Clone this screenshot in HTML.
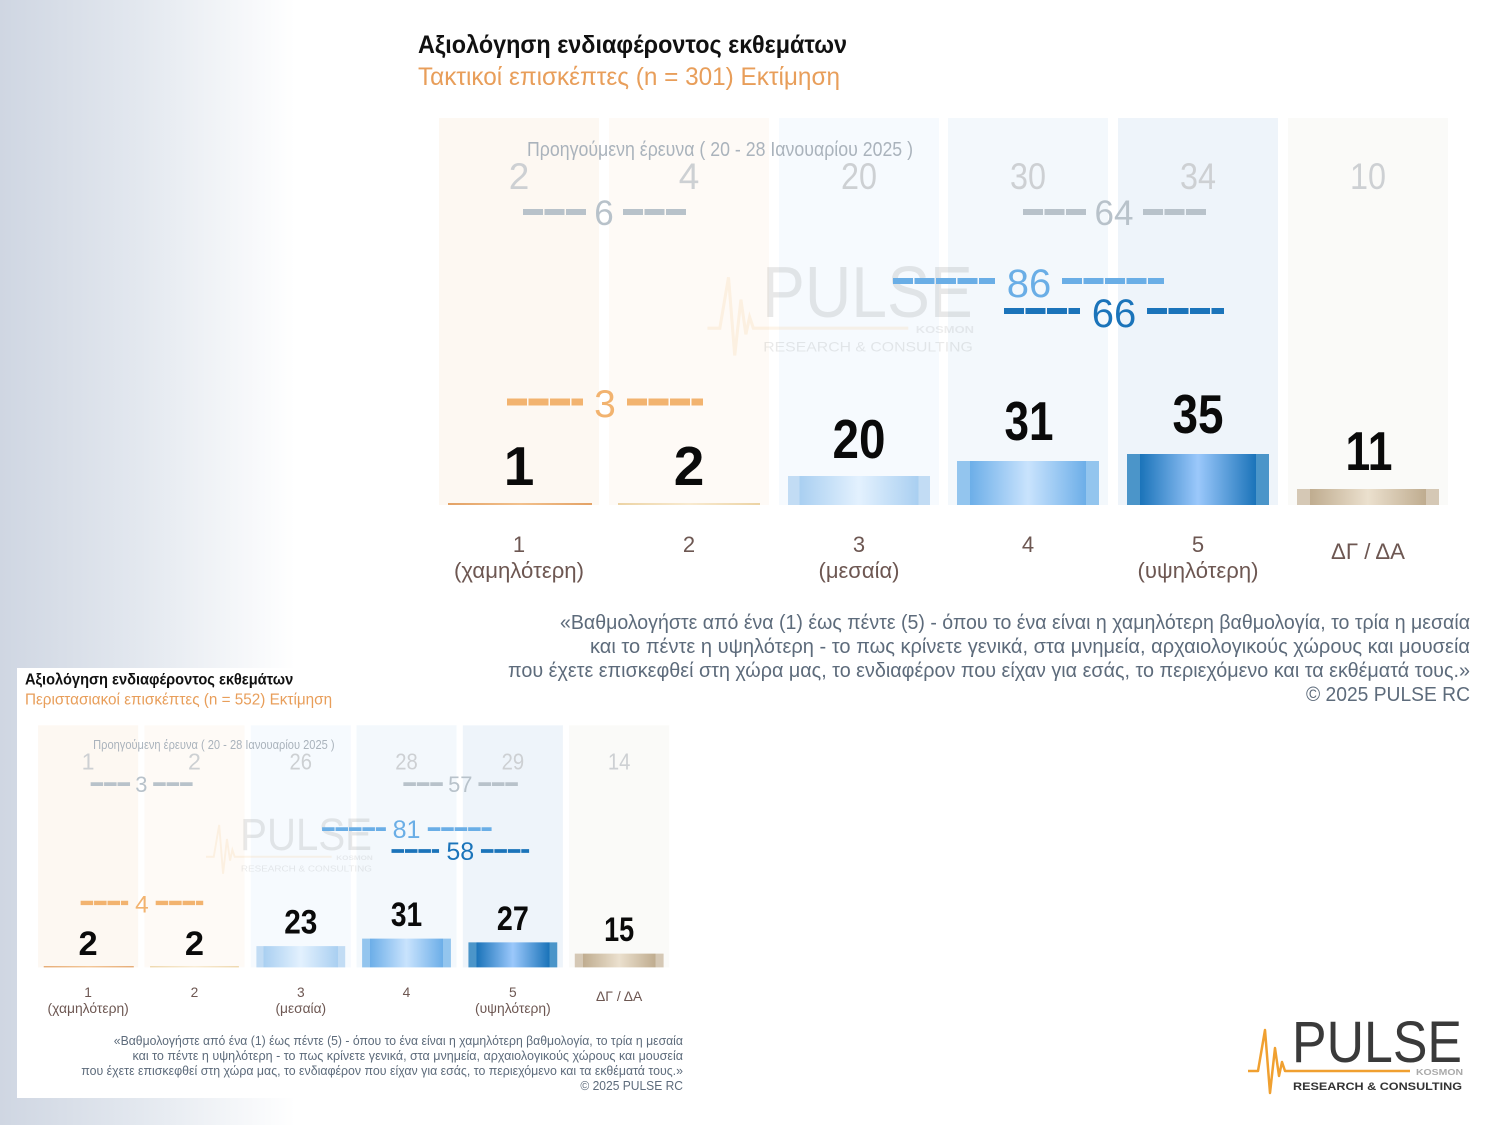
<!DOCTYPE html>
<html><head><meta charset="utf-8">
<style>
html,body{margin:0;padding:0;}
body{width:1500px;height:1125px;overflow:hidden;background:linear-gradient(to right,#cfd6e2 0px,#e3e8ef 140px,#ffffff 295px);}
svg{position:absolute;left:0;top:0;}
text{font-family:"Liberation Sans Narrow","Liberation Sans","Noto Sans CJK SC",sans-serif;}
</style></head>
<body>
<svg width="1500" height="1125" viewBox="0 0 1500 1125" xmlns="http://www.w3.org/2000/svg">
<defs>
<linearGradient id="g3" x1="0" x2="1" y1="0" y2="0">
<stop offset="0" stop-color="#c2dcf4"/><stop offset="0.08" stop-color="#c2dcf4"/><stop offset="0.08" stop-color="#a9cff1"/><stop offset="0.5" stop-color="#e3f1fe"/><stop offset="0.92" stop-color="#a9cff1"/><stop offset="0.92" stop-color="#c2dcf4"/><stop offset="1" stop-color="#c2dcf4"/>
</linearGradient>
<linearGradient id="g4" x1="0" x2="1" y1="0" y2="0">
<stop offset="0" stop-color="#93c5ee"/><stop offset="0.09" stop-color="#93c5ee"/><stop offset="0.09" stop-color="#6caee8"/><stop offset="0.5" stop-color="#c9e3fd"/><stop offset="0.91" stop-color="#6caee8"/><stop offset="0.91" stop-color="#93c5ee"/><stop offset="1" stop-color="#93c5ee"/>
</linearGradient>
<linearGradient id="g5" x1="0" x2="1" y1="0" y2="0">
<stop offset="0" stop-color="#4b95c9"/><stop offset="0.09" stop-color="#4b95c9"/><stop offset="0.09" stop-color="#1a73b9"/><stop offset="0.5" stop-color="#9bc8fb"/><stop offset="0.91" stop-color="#1a73b9"/><stop offset="0.91" stop-color="#4b95c9"/><stop offset="1" stop-color="#4b95c9"/>
</linearGradient>
<linearGradient id="g6" x1="0" x2="1" y1="0" y2="0">
<stop offset="0" stop-color="#d5c8b5"/><stop offset="0.09" stop-color="#d5c8b5"/><stop offset="0.09" stop-color="#bfac8f"/><stop offset="0.5" stop-color="#ebe0ce"/><stop offset="0.91" stop-color="#bfac8f"/><stop offset="0.91" stop-color="#d5c8b5"/><stop offset="1" stop-color="#d5c8b5"/>
</linearGradient>
<linearGradient id="g1" x1="0" x2="1" y1="0" y2="0">
<stop offset="0" stop-color="#e3a266"/><stop offset="0.5" stop-color="#f2c08c"/><stop offset="1" stop-color="#e3a266"/>
</linearGradient>
<linearGradient id="g2" x1="0" x2="1" y1="0" y2="0">
<stop offset="0" stop-color="#ecd3a4"/><stop offset="0.5" stop-color="#f8ead0"/><stop offset="1" stop-color="#ecd3a4"/>
</linearGradient>
</defs>

<!-- ================= INSET (small chart) ================= -->
<rect x="17" y="668" width="463" height="430" fill="#ffffff"/>
<g transform="translate(-236.5,651.5) scale(0.6255)">
  <text x="418" y="53" font-size="25" font-weight="bold" fill="#111" textLength="429" lengthAdjust="spacingAndGlyphs">Αξιολόγηση ενδιαφέροντος εκθεμάτων</text>
  <text x="418" y="85" font-size="25" fill="#e89e5a" textLength="491" lengthAdjust="spacingAndGlyphs">Περιστασιακοί επισκέπτες  (n = 552)   Εκτίμηση</text>

  <rect x="439" y="118" width="160" height="387" fill="#fdf8f2"/>
  <rect x="609" y="118" width="160" height="387" fill="#fefaf6"/>
  <rect x="779" y="118" width="160" height="387" fill="#f6fafe"/>
  <rect x="948" y="118" width="160" height="387" fill="#f3f8fc"/>
  <rect x="1118" y="118" width="160" height="387" fill="#eef4fa"/>
  <rect x="1288" y="118" width="160" height="387" fill="#fafaf8"/>

  <g transform="translate(762,317) scale(1.24)" opacity="0.1">
    <polyline points="-44,9 -34,9 -27,-32 -22,31 -17,-14 -13,14 -10,0 -7,9 118,9" fill="none" stroke="#f0a030" stroke-width="2.5"/>
    <text x="0" y="0" font-size="58" fill="#2b2b2b" textLength="170" lengthAdjust="spacingAndGlyphs">PULSE</text>
    <text x="124" y="13" font-size="8" font-weight="bold" fill="#555" textLength="47" lengthAdjust="spacingAndGlyphs">KOSMON</text>
    <text x="1" y="28" font-size="11" fill="#333" textLength="169" lengthAdjust="spacingAndGlyphs">RESEARCH &amp; CONSULTING</text>
  </g>

  <text x="527" y="156" font-size="20" fill="#aab3bc" textLength="386" lengthAdjust="spacingAndGlyphs">Προηγούμενη έρευνα ( 20 - 28 Ιανουαρίου 2025 )</text>
  <g font-size="37" fill="#cdd0d3" text-anchor="middle">
    <text x="519" y="189">1</text>
    <text x="689" y="189">2</text>
    <text x="859" y="189" textLength="36" lengthAdjust="spacingAndGlyphs">26</text>
    <text x="1028" y="189" textLength="36" lengthAdjust="spacingAndGlyphs">28</text>
    <text x="1198" y="189" textLength="36" lengthAdjust="spacingAndGlyphs">29</text>
    <text x="1368" y="189" textLength="36" lengthAdjust="spacingAndGlyphs">14</text>
  </g>

  <g stroke-dasharray="20 1.5" stroke-width="6" fill="none">
    <line x1="523" y1="212" x2="586" y2="212" stroke="#b8c2ca"/>
    <line x1="623" y1="212" x2="686" y2="212" stroke="#b8c2ca"/>
    <line x1="1023" y1="212" x2="1086" y2="212" stroke="#b8c2ca"/>
    <line x1="1143" y1="212" x2="1206" y2="212" stroke="#b8c2ca"/>
    <line x1="893" y1="284" x2="995" y2="284" stroke="#6aaee6"/>
    <line x1="1062" y1="284" x2="1164" y2="284" stroke="#6aaee6"/>
    <line x1="1004" y1="319" x2="1080" y2="319" stroke="#1b74ba"/>
    <line x1="1147" y1="319" x2="1224" y2="319" stroke="#1b74ba"/>
    <line x1="507" y1="402" x2="583" y2="402" stroke="#f2b36f" stroke-width="7"/>
    <line x1="627" y1="402" x2="703" y2="402" stroke="#f2b36f" stroke-width="7"/>
  </g>
  <g text-anchor="middle">
    <text x="604" y="225" font-size="35" fill="#b8c2ca">3</text>
    <text x="1114" y="225" font-size="35" fill="#b8c2ca">57</text>
    <text x="1028" y="298" font-size="40" fill="#6aaee6">81</text>
    <text x="1114" y="333" font-size="40" fill="#1b74ba">58</text>
    <text x="605" y="417" font-size="39" fill="#f2b36f">4</text>
  </g>

  <rect x="448" y="503" width="144" height="2" fill="url(#g1)"/>
  <rect x="618" y="503" width="142" height="2" fill="url(#g2)"/>
  <rect x="788" y="471" width="142" height="34" fill="url(#g3)"/>
  <rect x="957" y="459" width="142" height="46" fill="url(#g4)"/>
  <rect x="1127" y="465" width="142" height="40" fill="url(#g5)"/>
  <rect x="1297" y="483" width="142" height="22" fill="url(#g6)"/>

  <g font-size="55" font-weight="bold" fill="#0a0a0a" text-anchor="middle">
    <text x="519" y="485">2</text>
    <text x="689" y="485">2</text>
    <text x="859" y="451" textLength="53" lengthAdjust="spacingAndGlyphs">23</text>
    <text x="1028" y="439" textLength="50" lengthAdjust="spacingAndGlyphs">31</text>
    <text x="1198" y="445" textLength="51" lengthAdjust="spacingAndGlyphs">27</text>
    <text x="1368" y="463" textLength="48" lengthAdjust="spacingAndGlyphs">15</text>
  </g>

  <g font-size="22" fill="#6d5752" text-anchor="middle">
    <text x="519" y="552">1</text>
    <text x="519" y="578" textLength="130" lengthAdjust="spacingAndGlyphs">(χαμηλότερη)</text>
    <text x="689" y="552">2</text>
    <text x="859" y="552">3</text>
    <text x="859" y="578" textLength="81" lengthAdjust="spacingAndGlyphs">(μεσαία)</text>
    <text x="1028" y="552">4</text>
    <text x="1198" y="552">5</text>
    <text x="1198" y="578" textLength="121" lengthAdjust="spacingAndGlyphs">(υψηλότερη)</text>
    <text x="1368" y="559" textLength="74" lengthAdjust="spacingAndGlyphs">ΔΓ / ΔΑ</text>
  </g>

  <g font-size="20.5" fill="#5d6b7b" text-anchor="end">
    <text x="1470" y="629" textLength="910" lengthAdjust="spacingAndGlyphs">«Βαθμολογήστε από ένα (1) έως πέντε (5) - όπου το ένα είναι η χαμηλότερη βαθμολογία, το τρία η μεσαία</text>
    <text x="1470" y="653" textLength="880" lengthAdjust="spacingAndGlyphs">και το πέντε η υψηλότερη - το πως κρίνετε γενικά,  στα μνημεία, αρχαιολογικούς χώρους και μουσεία</text>
    <text x="1470" y="677" textLength="962" lengthAdjust="spacingAndGlyphs">που έχετε επισκεφθεί στη χώρα μας, το ενδιαφέρον που είχαν για εσάς, το περιεχόμενο και τα εκθέματά τους.»</text>
    <text x="1470" y="701" textLength="164" lengthAdjust="spacingAndGlyphs">©  2025  PULSE RC</text>
  </g>
</g>

<!-- ================= MAIN (top) chart ================= -->
<g>
  <text x="418" y="53" font-size="25" font-weight="bold" fill="#111" textLength="429" lengthAdjust="spacingAndGlyphs">Αξιολόγηση ενδιαφέροντος εκθεμάτων</text>
  <text x="418" y="85" font-size="25" fill="#e89e5a" textLength="422" lengthAdjust="spacingAndGlyphs">Τακτικοί επισκέπτες  (n = 301)   Εκτίμηση</text>

  <rect x="439" y="118" width="160" height="387" fill="#fdf8f2"/>
  <rect x="609" y="118" width="160" height="387" fill="#fefaf6"/>
  <rect x="779" y="118" width="160" height="387" fill="#f6fafe"/>
  <rect x="948" y="118" width="160" height="387" fill="#f3f8fc"/>
  <rect x="1118" y="118" width="160" height="387" fill="#eef4fa"/>
  <rect x="1288" y="118" width="160" height="387" fill="#fafaf8"/>

  <g transform="translate(762,317) scale(1.24)" opacity="0.1">
    <polyline points="-44,9 -34,9 -27,-32 -22,31 -17,-14 -13,14 -10,0 -7,9 118,9" fill="none" stroke="#f0a030" stroke-width="2.5"/>
    <text x="0" y="0" font-size="58" fill="#2b2b2b" textLength="170" lengthAdjust="spacingAndGlyphs">PULSE</text>
    <text x="124" y="13" font-size="8" font-weight="bold" fill="#555" textLength="47" lengthAdjust="spacingAndGlyphs">KOSMON</text>
    <text x="1" y="28" font-size="11" fill="#333" textLength="169" lengthAdjust="spacingAndGlyphs">RESEARCH &amp; CONSULTING</text>
  </g>

  <text x="527" y="156" font-size="20" fill="#aab3bc" textLength="386" lengthAdjust="spacingAndGlyphs">Προηγούμενη έρευνα ( 20 - 28 Ιανουαρίου 2025 )</text>
  <g font-size="37" fill="#cdd0d3" text-anchor="middle">
    <text x="519" y="189">2</text>
    <text x="689" y="189">4</text>
    <text x="859" y="189" textLength="36" lengthAdjust="spacingAndGlyphs">20</text>
    <text x="1028" y="189" textLength="36" lengthAdjust="spacingAndGlyphs">30</text>
    <text x="1198" y="189" textLength="36" lengthAdjust="spacingAndGlyphs">34</text>
    <text x="1368" y="189" textLength="36" lengthAdjust="spacingAndGlyphs">10</text>
  </g>

  <g stroke-dasharray="20 1.5" stroke-width="6" fill="none">
    <line x1="523" y1="212" x2="586" y2="212" stroke="#b8c2ca"/>
    <line x1="623" y1="212" x2="686" y2="212" stroke="#b8c2ca"/>
    <line x1="1023" y1="212" x2="1086" y2="212" stroke="#b8c2ca"/>
    <line x1="1143" y1="212" x2="1206" y2="212" stroke="#b8c2ca"/>
    <line x1="893" y1="281" x2="995" y2="281" stroke="#6aaee6"/>
    <line x1="1062" y1="281" x2="1164" y2="281" stroke="#6aaee6"/>
    <line x1="1004" y1="311" x2="1080" y2="311" stroke="#1b74ba"/>
    <line x1="1147" y1="311" x2="1224" y2="311" stroke="#1b74ba"/>
    <line x1="507" y1="402" x2="583" y2="402" stroke="#f2b36f" stroke-width="7"/>
    <line x1="627" y1="402" x2="703" y2="402" stroke="#f2b36f" stroke-width="7"/>
  </g>
  <g text-anchor="middle">
    <text x="604" y="225" font-size="35" fill="#b8c2ca">6</text>
    <text x="1114" y="225" font-size="35" fill="#b8c2ca">64</text>
    <text x="1029" y="297" font-size="40" fill="#6aaee6">86</text>
    <text x="1114" y="327" font-size="40" fill="#1b74ba">66</text>
    <text x="605" y="417" font-size="39" fill="#f2b36f">3</text>
  </g>

  <rect x="448" y="503" width="144" height="2" fill="url(#g1)"/>
  <rect x="618" y="503" width="142" height="2" fill="url(#g2)"/>
  <rect x="788" y="476" width="142" height="29" fill="url(#g3)"/>
  <rect x="957" y="461" width="142" height="44" fill="url(#g4)"/>
  <rect x="1127" y="454" width="142" height="51" fill="url(#g5)"/>
  <rect x="1297" y="489" width="142" height="16" fill="url(#g6)"/>

  <g font-size="55" font-weight="bold" fill="#0a0a0a" text-anchor="middle">
    <text x="519" y="485">1</text>
    <text x="689" y="485">2</text>
    <text x="859" y="458" textLength="53" lengthAdjust="spacingAndGlyphs">20</text>
    <text x="1029" y="440" textLength="49" lengthAdjust="spacingAndGlyphs">31</text>
    <text x="1198" y="433" textLength="51" lengthAdjust="spacingAndGlyphs">35</text>
    <text x="1369" y="470" textLength="47" lengthAdjust="spacingAndGlyphs">11</text>
  </g>

  <g font-size="22" fill="#6d5752" text-anchor="middle">
    <text x="519" y="552">1</text>
    <text x="519" y="578" textLength="130" lengthAdjust="spacingAndGlyphs">(χαμηλότερη)</text>
    <text x="689" y="552">2</text>
    <text x="859" y="552">3</text>
    <text x="859" y="578" textLength="81" lengthAdjust="spacingAndGlyphs">(μεσαία)</text>
    <text x="1028" y="552">4</text>
    <text x="1198" y="552">5</text>
    <text x="1198" y="578" textLength="121" lengthAdjust="spacingAndGlyphs">(υψηλότερη)</text>
    <text x="1368" y="559" textLength="74" lengthAdjust="spacingAndGlyphs">ΔΓ / ΔΑ</text>
  </g>

  <g font-size="20.5" fill="#5d6b7b" text-anchor="end">
    <text x="1470" y="629" textLength="910" lengthAdjust="spacingAndGlyphs">«Βαθμολογήστε από ένα (1) έως πέντε (5) - όπου το ένα είναι η χαμηλότερη βαθμολογία, το τρία η μεσαία</text>
    <text x="1470" y="653" textLength="880" lengthAdjust="spacingAndGlyphs">και το πέντε η υψηλότερη - το πως κρίνετε γενικά,  στα μνημεία, αρχαιολογικούς χώρους και μουσεία</text>
    <text x="1470" y="677" textLength="962" lengthAdjust="spacingAndGlyphs">που έχετε επισκεφθεί στη χώρα μας, το ενδιαφέρον που είχαν για εσάς, το περιεχόμενο και τα εκθέματά τους.»</text>
    <text x="1470" y="701" textLength="164" lengthAdjust="spacingAndGlyphs">©  2025  PULSE RC</text>
  </g>
</g>

<!-- ================= LOGO bottom right ================= -->
<g transform="translate(1292,1062)">
  <polyline points="-44,9 -34,9 -27,-32 -22,31 -17,-14 -13,14 -10,0 -7,9 118,9" fill="none" stroke="#f0a030" stroke-width="2.5" stroke-linejoin="round"/>
  <text x="0" y="0" font-size="58" fill="#3a3a3a" textLength="170" lengthAdjust="spacingAndGlyphs">PULSE</text>
  <text x="124" y="13" font-size="8" font-weight="bold" fill="#aaaaaa" textLength="47" lengthAdjust="spacingAndGlyphs">KOSMON</text>
  <text x="1" y="28" font-size="11" font-weight="bold" fill="#333" textLength="169" lengthAdjust="spacingAndGlyphs">RESEARCH &amp; CONSULTING</text>
</g>
</svg>
</body></html>
